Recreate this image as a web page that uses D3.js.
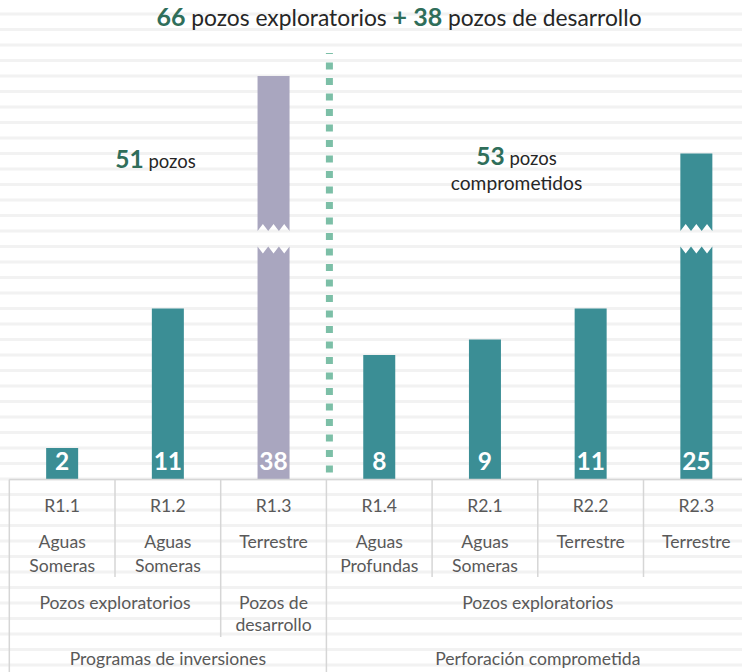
<!DOCTYPE html>
<html><head><meta charset="utf-8">
<script src="https://cdn.jsdelivr.net/npm/d3@7"></script>
<style>body{margin:0;background:#fff} svg{display:block} text{font-family:Lato,'Open Sans',sans-serif}</style>
</head><body><svg id="c" width="742" height="672"></svg>
<script>
// ---- data ----
const categories = ["R1.1","R1.2","R1.3","R1.4","R2.1","R2.2","R2.3"];
const terrain = [["Aguas","Someras"],["Aguas","Someras"],["Terrestre"],["Aguas","Profundas"],["Aguas","Someras"],["Terrestre"],["Terrestre"]];
const wells = [2,11,38,8,9,11,25];
const wellKind = ["exp","exp","dev","exp","exp","exp","exp"];
const breakCut = [0,0,12,0,0,0,4]; // units hidden by the axis break
const kindGroups = [
  {label:["Pozos exploratorios"], from:0, to:1},
  {label:["Pozos de","desarrollo"], from:2, to:2},
  {label:["Pozos exploratorios"], from:3, to:6}
];
const programGroups = [
  {label:"Programas de inversiones", from:0, to:2},
  {label:"Perforación comprometida", from:3, to:6}
];

// ---- styles ----
const TEAL="#3b8e95", GREY="#a9a6bf", DGREEN="#2f6e5a", DASH="#7cbfa7", LINE="#d6d6d6", TXT="#595959";

const svg = d3.select("#c");
const x = d3.scaleBand().domain(categories).range([9.3, 9.3+7*105.7]).padding(0);
const y = d3.scaleLinear().domain([0,30]).range([479,14]);
const bw = x.bandwidth(), barW = 32;

// background gridlines
svg.append("g").selectAll("line").data(d3.range(-12,31)).join("line")
  .attr("x1",0).attr("x2",742).attr("y1",d=>y(d)).attr("y2",d=>y(d))
  .attr("stroke","#f2f2f2").attr("stroke-width",3);

// bars
const breakLow = 15, breakHigh = 16, tooth = 7;
const gBars = svg.append("g");
categories.forEach((c,i)=>{
  const x0 = x(c)+bw/2-barW/2, x1 = x0+barW;
  const col = wellKind[i]==="dev"?GREY:TEAL;
  const top = wells[i]-breakCut[i];
  if(breakCut[i]===0){
    gBars.append("rect").attr("x",x0).attr("width",barW).attr("y",y(top)).attr("height",y(0)-y(top)).attr("fill",col);
  } else {
    const yl=y(breakLow), yu=y(breakHigh), w=barW;
    let p = `M${x0},${y(0)} L${x0},${yl}`;
    for(let k=0;k<3;k++){ p+=` L${x0+w*(2*k+1)/6},${yl+tooth} L${x0+w*(2*k+2)/6},${yl}`; }
    p+=` L${x1},${y(0)} Z`;
    let q = `M${x0},${y(top)} L${x0},${yu}`;
    for(let k=0;k<3;k++){ q+=` L${x0+w*(2*k+1)/6},${yu-tooth} L${x0+w*(2*k+2)/6},${yu}`; }
    q+=` L${x1},${y(top)} Z`;
    gBars.append("path").attr("d",p).attr("fill",col);
    gBars.append("path").attr("d",q).attr("fill",col);
  }
  gBars.append("text").attr("x",x(c)+bw/2).attr("y",469.5).attr("text-anchor","middle")
    .attr("fill","#fff").attr("font-weight","bold").attr("font-size",24.5).text(wells[i]);
});

// separator dashed line between groups
const sepX = x(categories[programGroups[1].from]) + 3;
svg.append("line").attr("x1",sepX).attr("x2",sepX).attr("y1",53).attr("y2",476)
  .attr("stroke",DASH).attr("stroke-width",7).attr("stroke-dasharray","7 8.5").attr("stroke-dashoffset",6);

// title
const expTotal = d3.sum(wells.filter((v,i)=>wellKind[i]==="exp"));
const devTotal = d3.sum(wells.filter((v,i)=>wellKind[i]==="dev"));
const t = svg.append("text").attr("x",399).attr("y",26).attr("text-anchor","middle").attr("font-size",22.8).attr("fill","#262626");
t.append("tspan").attr("font-weight","bold").attr("fill",DGREEN).attr("font-size",25).text(expTotal);
t.append("tspan").text(" pozos exploratorios ");
t.append("tspan").attr("font-weight","bold").attr("fill",DGREEN).attr("font-size",25).text("+ "+devTotal);
t.append("tspan").text(" pozos de desarrollo");

// group annotations
const sumG = g => d3.sum(wells.slice(g.from,g.to+1));
const a1 = svg.append("text").attr("x",155.5).attr("y",168).attr("text-anchor","middle").attr("fill","#262626").attr("font-size",18.5);
a1.append("tspan").attr("font-weight","bold").attr("fill",DGREEN).attr("font-size",24.5).text(sumG(programGroups[0]));
a1.append("tspan").text(" pozos");
const a2 = svg.append("text").attr("x",516.5).attr("y",165).attr("text-anchor","middle").attr("fill","#262626").attr("font-size",18.5);
a2.append("tspan").attr("font-weight","bold").attr("fill",DGREEN).attr("font-size",24.5).text(sumG(programGroups[1]));
a2.append("tspan").text(" pozos");
svg.append("text").attr("x",516.5).attr("y",190).attr("text-anchor","middle").attr("fill","#262626").attr("font-size",19.2).text("comprometidos");

// table
const gT = svg.append("g");
const xs = i => x.range()[0] + i*bw;
gT.append("line").attr("x1",xs(0)).attr("x2",742).attr("y1",479.5).attr("y2",479.5).attr("stroke",LINE).attr("stroke-width",1.5);
d3.range(0,8).forEach(i=>{
  let yb = 577;
  if(kindGroups.some(g=>g.from===i)) yb = 637;
  if(programGroups.some(g=>g.from===i)) yb = 672;
  gT.append("line").attr("x1",xs(i)).attr("x2",xs(i)).attr("y1",479.5).attr("y2",yb).attr("stroke",LINE).attr("stroke-width",1.5);
});
const fs = 17.6;
categories.forEach((c,i)=>{
  const cx = x(c)+bw/2;
  gT.append("text").attr("x",cx).attr("y",511.5).attr("text-anchor","middle").attr("fill",TXT).attr("font-size",fs).text(c);
  terrain[i].forEach((l,j)=>gT.append("text").attr("x",cx).attr("y",548+j*23.5).attr("text-anchor","middle").attr("fill",TXT).attr("font-size",fs).text(l));
});
kindGroups.forEach(g=>{
  const cx = (xs(g.from)+xs(g.to+1))/2;
  g.label.forEach((l,j)=>gT.append("text").attr("x",cx).attr("y",608.5+j*22.5).attr("text-anchor","middle").attr("fill",TXT).attr("font-size",fs).text(l));
});
programGroups.forEach(g=>{
  const cx = (xs(g.from)+xs(g.to+1))/2;
  gT.append("text").attr("x",cx).attr("y",665).attr("text-anchor","middle").attr("fill",TXT).attr("font-size",fs).text(g.label);
});
</script></body></html>
